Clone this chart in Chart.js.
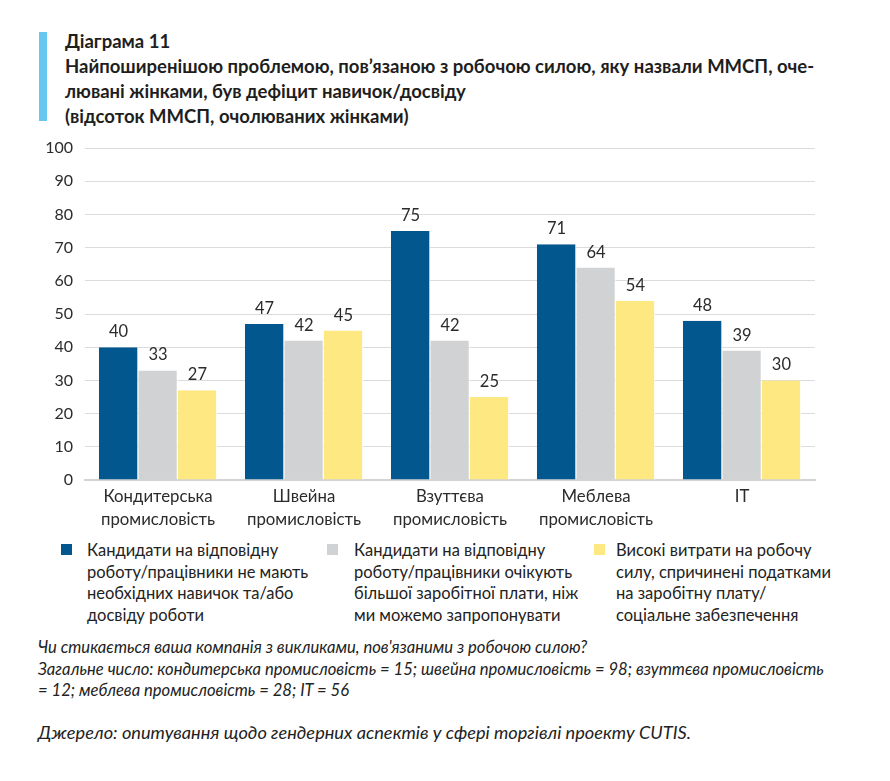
<!DOCTYPE html>
<html>
<head>
<meta charset="utf-8">
<script src="https://cdn.jsdelivr.net/npm/chart.js@4"></script>
<style>
  body { margin: 0; background: #fff; font-family: Lato, sans-serif; color: #222; }
  #page { position: relative; width: 890px; height: 781px; }
  #accent { position: absolute; left: 39px; top: 32px; width: 8px; height: 89px; background: #66c8ef; }
  #title { position: absolute; left: 65px; top: 29px; font-weight: bold; font-size: 18.5px; line-height: 25px; color: #1e1e1e; white-space: nowrap; }
  #chart_box { position: absolute; left: 0; top: 120px; width: 890px; height: 420px; }
  .legend_square { position: absolute; width: 11px; height: 11px; }
  .legend_text { position: absolute; font-size: 16.5px; line-height: 21.7px; color: #222; white-space: nowrap; }
  #notes { position: absolute; left: 38px; top: 637px; font-style: italic; font-size: 16.6px; line-height: 21.5px; color: #222; white-space: nowrap; }
  #source { position: absolute; left: 38px; top: 721px; font-style: italic; font-size: 18.2px; color: #222; white-space: nowrap; }
</style>
</head>
<body>
<div id="page">
  <div id="accent"></div>
  <div id="title">Діаграма 11<br>Найпоширенішою проблемою, пов’язаною з робочою силою, яку назвали ММСП, оче-<br>лювані жінками, був дефіцит навичок/досвіду<br>(відсоток ММСП, очолюваних жінками)</div>
  <div id="chart_box"><canvas id="graph_1" width="890" height="420"></canvas></div>
  <div id="legend"></div>
  <div id="notes">Чи стикається ваша компанія з викликами, пов'язаними з робочою силою?<br>Загальне число: кондитерська промисловість = 15; швейна промисловість = 98; взуттєва промисловість<br>= 12; меблева промисловість = 28; IT = 56</div>
  <div id="source">Джерело: опитування щодо гендерних аспектів у сфері торгівлі проекту CUTIS.</div>
</div>
<script>
// Дані діаграми
const categories = [
  ['Кондитерська', 'промисловість'],
  ['Швейна', 'промисловість'],
  ['Взуттєва', 'промисловість'],
  ['Меблева', 'промисловість'],
  'IT'
];
const no_skills = [40, 47, 75, 71, 48];
const higher_pay = [33, 42, 42, 64, 39];
const high_costs = [27, 45, 25, 54, 30];
const series_labels = [
  ['Кандидати на відповідну', 'роботу/працівники не мають', 'необхідних навичок та/або', 'досвіду роботи'],
  ['Кандидати на відповідну', 'роботу/працівники очікують', 'більшої заробітної плати, ніж', 'ми можемо запропонувати'],
  ['Високі витрати на робочу', 'силу, спричинені податками', 'на заробітну плату/', 'соціальне забезпечення']
];
const y_ticks = [0, 10, 20, 30, 40, 50, 60, 70, 80, 90, 100];
const colors = ['#03578f', '#d1d2d4', '#fde882'];

const text_color = '#2b2b2b';

// Підписи значень над стовпчиками
const value_labels = {
  id: 'value_labels',
  afterDatasetsDraw(chart) {
    const ctx = chart.ctx;
    ctx.save();
    ctx.font = '16.5px Lato';
    ctx.fillStyle = text_color;
    ctx.textAlign = 'center';
    ctx.textBaseline = 'alphabetic';
    chart.data.datasets.forEach((ds, i) => {
      chart.getDatasetMeta(i).data.forEach((bar, j) => {
        ctx.fillText(ds.data[j], bar.x, bar.y - 10);
      });
    });
    ctx.restore();
  }
};

const all_series = [no_skills, higher_pay, high_costs];

const graph_section_1 = new Chart(document.getElementById('graph_1').getContext('2d'), {
  type: 'bar',
  data: {
    labels: categories,
    datasets: all_series.map((values, i) => ({
      label: series_labels[i].join(' '),
      data: values,
      backgroundColor: colors[i],
      borderColor: '#fff',
      borderWidth: { top: 0, right: 1, bottom: 0, left: 0 },
      borderSkipped: 'start',
      barPercentage: 1,
      categoryPercentage: 0.81
    }))
  },
  options: {
    responsive: false,
    animation: false,
    layout: { padding: { top: 28, right: 75, bottom: 0, left: 0 } },
    plugins: { legend: { display: false }, tooltip: { enabled: false } },
    scales: {
      x: {
        grid: { display: false },
        border: { display: true, color: '#d3d3d3', width: 2 },
        ticks: { color: text_color, font: { family: 'Lato', size: 16.8, lineHeight: 1.38 }, padding: -3, maxRotation: 0, autoSkip: false },
        afterFit: scale => { scale.height = 60; }
      },
      y: {
        min: 0,
        max: 100,
        afterBuildTicks: scale => { scale.ticks = y_ticks.map(v => ({ value: v })); },
        grid: { color: '#dcdcdc', lineWidth: 1, drawTicks: false },
        border: { display: false },
        ticks: { color: text_color, font: { family: 'Lato', size: 16 }, padding: 12 },
        afterFit: scale => { scale.width = 85; }
      }
    }
  },
  plugins: [value_labels]
});

// Легенда (HTML, бо підписи багаторядкові)
const legend_x = [[61, 87], [327, 354], [594, 616]];
const legend = document.getElementById('legend');
series_labels.forEach((lines, i) => {
  const sq = document.createElement('div');
  sq.className = 'legend_square';
  sq.style.left = legend_x[i][0] + 'px';
  sq.style.top = '544px';
  sq.style.background = colors[i];
  legend.appendChild(sq);
  const tx = document.createElement('div');
  tx.className = 'legend_text';
  tx.style.left = legend_x[i][1] + 'px';
  tx.style.top = '540px';
  tx.innerHTML = lines.join('<br>');
  legend.appendChild(tx);
});
</script>
</body>
</html>
